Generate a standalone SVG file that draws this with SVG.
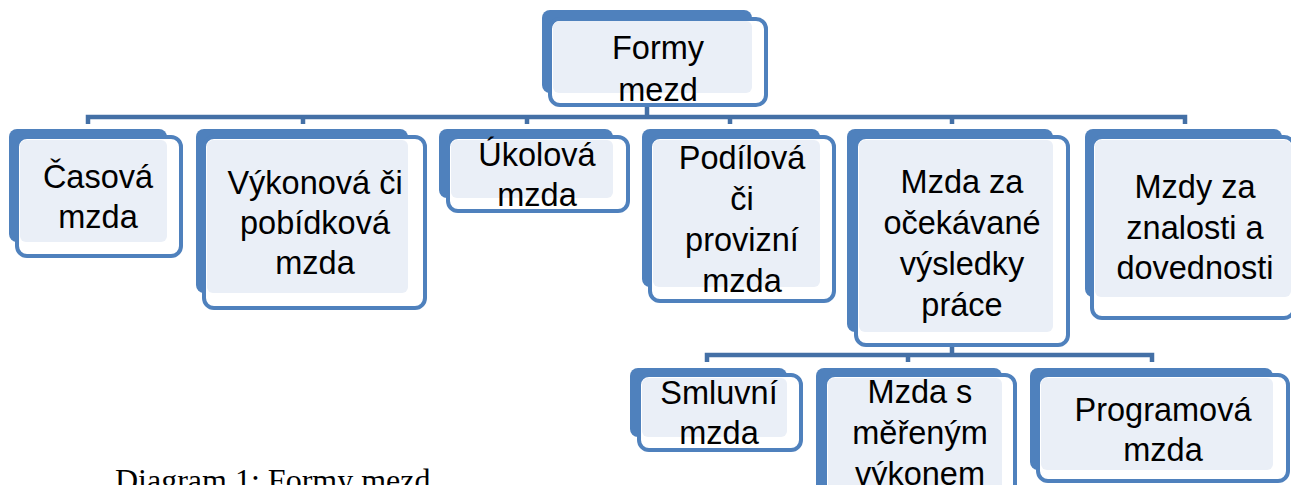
<svg xmlns="http://www.w3.org/2000/svg" width="1291" height="485" viewBox="0 0 1291 485">
<style>
.back{fill:#4F81BD}
.front{fill:#FFFFFF;stroke:#4F81BD;stroke-width:4}
.light{fill:#EAEFF7}
.t{font-family:"Liberation Sans",Arial,sans-serif;font-size:32.5px;fill:#000;text-anchor:middle}
.conn{fill:none;stroke:#4470A6;stroke-width:4.5;stroke-linejoin:miter}
.cap{font-family:"Liberation Serif","Times New Roman",serif;font-size:32px;fill:#000}
</style>
<rect width="1291" height="485" fill="#FFFFFF"/>
<g id="connectors">
<path class="conn" d="M88,124 V117 H1185 V124"/>
<path class="conn" d="M303,117 V124 M527,117 V124 M730,117 V124 M952,117 V124 M647,105 V117"/>
<path class="conn" d="M707,362 V355 H1152 V362"/>
<path class="conn" d="M908,355 V362 M952,345 V355"/>
</g>
<g id="n-formy">
<rect class="back" x="542" y="10" width="210" height="83" rx="8"/>
<rect class="front" x="550" y="19" width="216" height="86" rx="10"/>
<rect class="light" x="553" y="21" width="199" height="72" rx="6"/>
<text class="t" x="658" y="59">Formy</text>
<text class="t" x="658" y="101">mezd</text>
</g>
<g id="n-casova">
<rect class="back" x="9" y="129" width="158" height="113" rx="8"/>
<rect class="front" x="17" y="137" width="164" height="119" rx="10"/>
<rect class="light" x="20" y="140" width="147" height="102" rx="6"/>
<text class="t" x="98" y="188">Časová</text>
<text class="t" x="98" y="228">mzda</text>
</g>
<g id="n-vykonova">
<rect class="back" x="196" y="129" width="212" height="164" rx="8"/>
<rect class="front" x="204" y="137" width="221" height="171" rx="10"/>
<rect class="light" x="207" y="140" width="201" height="153" rx="6"/>
<text class="t" x="315" y="194">Výkonová či</text>
<text class="t" x="315" y="234">pobídková</text>
<text class="t" x="315" y="274">mzda</text>
</g>
<g id="n-ukolova">
<rect class="back" x="439" y="129" width="174" height="69" rx="8"/>
<rect class="front" x="448" y="137" width="180" height="74" rx="10"/>
<rect class="light" x="451" y="140" width="162" height="58" rx="6"/>
<text class="t" x="537" y="166">Úkolová</text>
<text class="t" x="537" y="206">mzda</text>
</g>
<g id="n-podilova">
<rect class="back" x="642" y="129" width="178" height="158" rx="8"/>
<rect class="front" x="650" y="137" width="184" height="164" rx="10"/>
<rect class="light" x="653" y="140" width="167" height="147" rx="6"/>
<text class="t" x="742" y="169">Podílová</text>
<text class="t" x="742" y="210">či</text>
<text class="t" x="742" y="251">provizní</text>
<text class="t" x="742" y="292">mzda</text>
</g>
<g id="n-ocekavane">
<rect class="back" x="847" y="129" width="206" height="203" rx="8"/>
<rect class="front" x="856" y="137" width="212" height="208" rx="10"/>
<rect class="light" x="859" y="140" width="194" height="192" rx="6"/>
<text class="t" x="962" y="193">Mzda za</text>
<text class="t" x="962" y="234">očekávané</text>
<text class="t" x="962" y="275">výsledky</text>
<text class="t" x="962" y="316">práce</text>
</g>
<g id="n-znalosti">
<rect class="back" x="1085" y="129" width="197" height="168" rx="8"/>
<rect class="front" x="1092" y="137" width="202" height="181" rx="10"/>
<rect class="light" x="1095" y="140" width="196" height="157" rx="6"/>
<text class="t" x="1195" y="198">Mzdy za</text>
<text class="t" x="1195" y="239">znalosti a</text>
<text class="t" x="1195" y="279">dovednosti</text>
</g>
<g id="n-smluvni">
<rect class="back" x="630" y="368" width="157" height="69" rx="8"/>
<rect class="front" x="639" y="375" width="162" height="75" rx="10"/>
<rect class="light" x="642" y="378" width="145" height="59" rx="6"/>
<text class="t" x="719" y="404">Smluvní</text>
<text class="t" x="719" y="444">mzda</text>
</g>
<g id="n-merenym">
<rect class="back" x="816" y="368" width="186" height="132" rx="8"/>
<rect class="front" x="825" y="375" width="190" height="133" rx="10"/>
<rect class="light" x="828" y="378" width="174" height="122" rx="6"/>
<text class="t" x="920" y="403">Mzda s</text>
<text class="t" x="920" y="444">měřeným</text>
<text class="t" x="920" y="485">výkonem</text>
</g>
<g id="n-programova">
<rect class="back" x="1030" y="368" width="243" height="102" rx="8"/>
<rect class="front" x="1038" y="375" width="250" height="106" rx="10"/>
<rect class="light" x="1041" y="378" width="232" height="92" rx="6"/>
<text class="t" x="1163" y="421">Programová</text>
<text class="t" x="1163" y="461">mzda</text>
</g>
<text class="cap" x="115" y="491">Diagram 1: Formy mezd</text>
</svg>
